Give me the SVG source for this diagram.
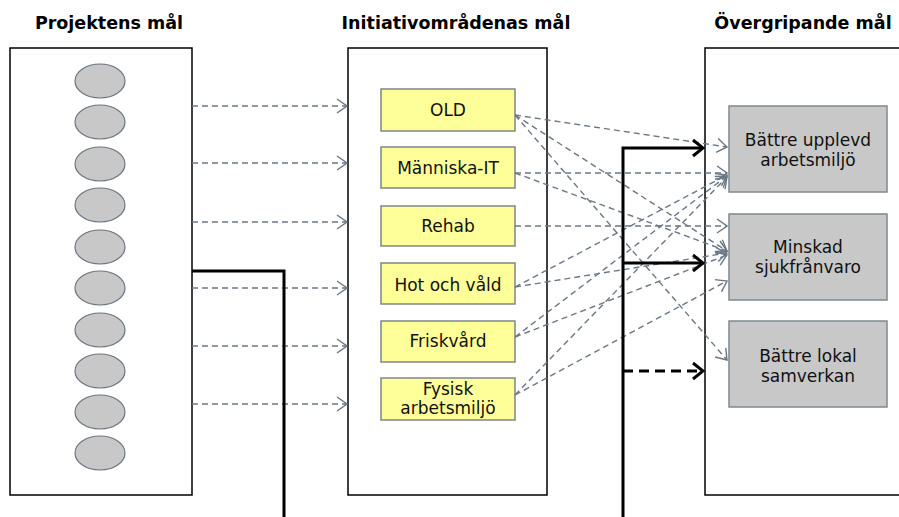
<svg xmlns="http://www.w3.org/2000/svg" width="899" height="517" viewBox="0 0 899 517">
<defs>
<style>
.title{font-family:"DejaVu Sans",Verdana,sans-serif;font-weight:bold;font-size:17.5px;fill:#000;text-anchor:middle}
.lbl{font-family:"DejaVu Sans",Verdana,sans-serif;font-size:17px;fill:#111;text-anchor:middle}
.panel{fill:#fff;stroke:#000;stroke-width:1.5}
.oval{fill:#c8c8c8;stroke:#6b7580;stroke-width:1.2}
.ybox{fill:#ffff99;stroke:#7f8588;stroke-width:1.5}
.gbox{fill:#c8c8c8;stroke:#7f8890;stroke-width:1.5}
.dash{fill:none;stroke:#6b7785;stroke-width:1.4;stroke-dasharray:6 4;marker-end:url(#ga)}
.thick{fill:none;stroke:#000;stroke-width:3}
</style>
<marker id="ga" viewBox="0 0 12 16" refX="11" refY="8" markerWidth="12" markerHeight="16" markerUnits="userSpaceOnUse" orient="auto">
<path d="M1,1 L11,8 L1,15" fill="none" stroke="#6b7785" stroke-width="1.4"/>
</marker>
<marker id="ba" viewBox="0 0 14 20" refX="12" refY="10" markerWidth="14" markerHeight="20" markerUnits="userSpaceOnUse" orient="auto">
<path d="M2,2 L12,10 L2,18" fill="none" stroke="#000" stroke-width="3"/>
</marker>
</defs>
<rect width="899" height="517" fill="#fff"/>
<text class="title" x="109" y="29">Projektens mål</text>
<text class="title" x="456" y="29">Initiativområdenas mål</text>
<text class="title" x="803" y="29">Övergripande mål</text>
<g id="panel-left"><rect class="panel" x="10" y="48" width="182" height="447"/></g>
<g id="panel-middle"><rect class="panel" x="348" y="48" width="199" height="447"/></g>
<g id="panel-right"><rect class="panel" x="705" y="48" width="200" height="447"/></g>
<g id="projects">
<ellipse class="oval" cx="100" cy="81" rx="25" ry="17"/>
<ellipse class="oval" cx="100" cy="122" rx="25" ry="17"/>
<ellipse class="oval" cx="100" cy="164" rx="25" ry="17"/>
<ellipse class="oval" cx="100" cy="205" rx="25" ry="17"/>
<ellipse class="oval" cx="100" cy="247" rx="25" ry="17"/>
<ellipse class="oval" cx="100" cy="288" rx="25" ry="17"/>
<ellipse class="oval" cx="100" cy="330" rx="25" ry="17"/>
<ellipse class="oval" cx="100" cy="371" rx="25" ry="17"/>
<ellipse class="oval" cx="100" cy="412" rx="25" ry="17"/>
<ellipse class="oval" cx="100" cy="453" rx="25" ry="17"/>
</g>
<g id="n-old"><rect class="ybox" x="381" y="89" width="134" height="42"/><text class="lbl" x="448" y="116">OLD</text></g>
<g id="n-manniska"><rect class="ybox" x="381" y="147" width="134" height="41"/><text class="lbl" x="448" y="174">Människa-IT</text></g>
<g id="n-rehab"><rect class="ybox" x="381" y="206" width="134" height="40"/><text class="lbl" x="448" y="232">Rehab</text></g>
<g id="n-hot"><rect class="ybox" x="381" y="263" width="134" height="41"/><text class="lbl" x="448" y="291">Hot och våld</text></g>
<g id="n-frisk"><rect class="ybox" x="381" y="321" width="134" height="41"/><text class="lbl" x="448" y="347">Friskvård</text></g>
<g id="n-fysisk"><rect class="ybox" x="381" y="378" width="134" height="42"/><text class="lbl" x="448" y="395">Fysisk</text><text class="lbl" x="448" y="414">arbetsmiljö</text></g>
<g id="g-arbetsmiljo"><rect class="gbox" x="729" y="106" width="158" height="86"/><text class="lbl" x="808" y="146">Bättre upplevd</text><text class="lbl" x="808" y="166">arbetsmiljö</text></g>
<g id="g-sjuk"><rect class="gbox" x="729" y="214" width="158" height="86"/><text class="lbl" x="808" y="253">Minskad</text><text class="lbl" x="808" y="273">sjukfrånvaro</text></g>
<g id="g-samverkan"><rect class="gbox" x="729" y="321" width="158" height="86"/><text class="lbl" x="808" y="362">Bättre lokal</text><text class="lbl" x="808" y="382">samverkan</text></g>
<g id="connectors">
<path class="dash" d="M192,106 H347"/>
<path class="dash" d="M192,163 H347"/>
<path class="dash" d="M192,222 H347"/>
<path class="dash" d="M192,288 H347"/>
<path class="dash" d="M192,346 H347"/>
<path class="dash" d="M192,404 H347"/>
<path class="dash" d="M515,115 L727,147"/>
<path class="dash" d="M515,115 L727,251"/>
<path class="dash" d="M515,115 L727,360"/>
<path class="dash" d="M515,173 L727,173"/>
<path class="dash" d="M515,173 L727,251"/>
<path class="dash" d="M515,226 L727,226"/>
<path class="dash" d="M515,287 L727,175"/>
<path class="dash" d="M515,287 L727,253"/>
<path class="dash" d="M515,337 L727,176"/>
<path class="dash" d="M515,337 L727,255"/>
<path class="dash" d="M515,395 L727,177"/>
<path class="dash" d="M515,395 L727,281"/>
<path class="thick" d="M192,271 H284 V517"/>
<path class="thick" d="M623,517 V148 H703" marker-end="url(#ba)"/>
<path class="thick" d="M623,263 H703" marker-end="url(#ba)"/>
<path class="thick" d="M623,371 H703" stroke-dasharray="10 6" marker-end="url(#ba)"/>
</g>
</svg>
